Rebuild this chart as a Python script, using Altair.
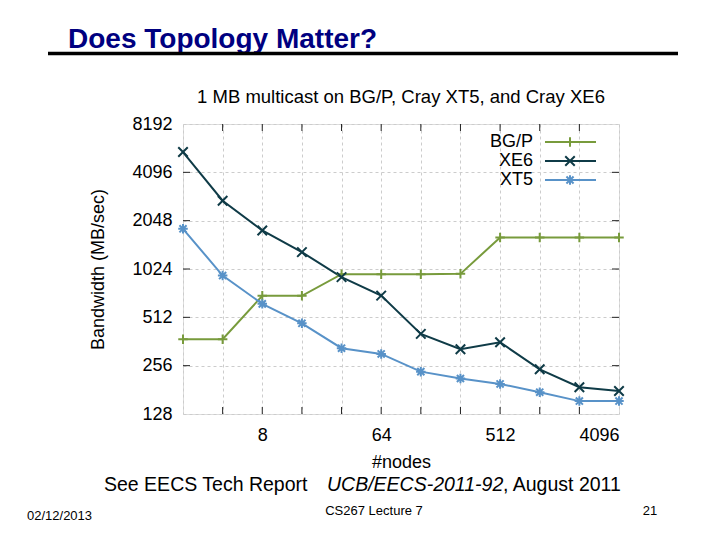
import altair as alt
import pandas as pd

# ---- data ----
nodes = [2, 4, 8, 16, 32, 64, 128, 256, 512, 1024, 2048, 4096]
series = ["BG/P", "XE6", "XT5"]
bgp = [374, 374, 697, 697, 951, 951, 951, 955, 1609, 1609, 1609, 1609]
xe6 = [5480, 2725, 1779, 1304, 911, 699, 404, 324, 358, 243, 188, 178]
xt5 = [1823, 932, 621, 470, 329, 303, 235, 213, 197, 175, 154, 154]
x_ticks = [2, 4, 8, 16, 32, 64, 128, 256, 512, 1024, 2048, 4096]
x_tick_labels = [8, 64, 512, 4096]
y_ticks = [128, 256, 512, 1024, 2048, 4096, 8192]

colors = ["#789b3c", "#0f3b47", "#5892c8"]
shapes = [
    "M-1,0L1,0M0,-1L0,1",
    "M-1,-1L1,1M-1,1L1,-1",
    "M-1,0L1,0M0,-1L0,1M-0.75,-0.75L0.75,0.75M-0.75,0.75L0.75,-0.75",
]

rows = []
for name, vals in zip(series, [bgp, xe6, xt5]):
    for n, v in zip(nodes, vals):
        rows.append({"nodes": n, "bw": v, "series": name})
df = pd.DataFrame(rows)

W, H = 436, 290
FONT = "Liberation Sans"

xscale = alt.Scale(type="log", base=2, domain=[2, 4096], nice=False)
yscale = alt.Scale(type="log", base=2, domain=[128, 8192], nice=False)
cscale = alt.Scale(domain=series, range=colors)
sscale = alt.Scale(domain=series, range=shapes)

label_expr = "indexof([" + ",".join(str(v) for v in x_tick_labels) + "], datum.value) >= 0 ? format(datum.value, 'd') : ''"

xenc = alt.X("nodes:Q", scale=xscale, title="#nodes",
             axis=alt.Axis(values=x_ticks, labelExpr=label_expr, grid=True,
                           gridDash=[3, 3], gridColor="#cccccc", ticks=False, domain=False,
                           labelFontSize=18, labelPadding=12, titleFontSize=18,
                           titleFontWeight="normal", titlePadding=9, labelColor="black",
                           titleColor="black", labelFont=FONT, titleFont=FONT))
yenc = alt.Y("bw:Q", scale=yscale, title="Bandwidth (MB/sec)",
             axis=alt.Axis(values=y_ticks, format="d", grid=True, gridDash=[3, 3],
                           gridColor="#cccccc", ticks=False, domain=False,
                           labelFontSize=18, labelPadding=11, titleFontSize=18,
                           titleFontWeight="normal", titlePadding=24, labelColor="black",
                           titleColor="black", labelFont=FONT, titleFont=FONT))

lines = alt.Chart(df).mark_line(strokeWidth=2).encode(
    x=xenc, y=yenc,
    color=alt.Color("series:N", scale=cscale, legend=None),
    detail="series:N",
)
points = alt.Chart(df).mark_point(filled=False, strokeWidth=2, size=90, opacity=1).encode(
    x="nodes:Q", y="bw:Q",
    color=alt.Color("series:N", scale=cscale, legend=None),
    shape=alt.Shape("series:N", scale=sscale, legend=None),
)

# inward tick marks on all four sides
xt = pd.DataFrame({"nodes": x_ticks[1:-1]})
yt = pd.DataFrame({"bw": y_ticks[1:-1]})
tick_col = "#222222"
xt_bot = alt.Chart(xt).mark_rule(color=tick_col, strokeWidth=1).encode(
    x="nodes:Q", y=alt.value(H), y2=alt.value(H - 7))
xt_top = alt.Chart(xt).mark_rule(color=tick_col, strokeWidth=1).encode(
    x="nodes:Q", y=alt.value(0), y2=alt.value(7))
yt_left = alt.Chart(yt).mark_rule(color=tick_col, strokeWidth=1).encode(
    y="bw:Q", x=alt.value(0), x2=alt.value(7))
yt_right = alt.Chart(yt).mark_rule(color=tick_col, strokeWidth=1).encode(
    y="bw:Q", x=alt.value(W), x2=alt.value(W - 7))

one = alt.Data(values=[{"a": 1}])


def text(t, x, y, size, align="left", color="black", weight="normal", style="normal", baseline="alphabetic"):
    return alt.Chart(one).mark_text(
        text=t, font=FONT, fontSize=size, align=align, baseline=baseline,
        color=color, fontWeight=weight, fontStyle=style,
    ).encode(x=alt.value(x), y=alt.value(y))


# legend (label left of sample, gnuplot style)
legend_layers = []
for i, name in enumerate(series):
    yy = 18 + 19 * i
    legend_layers.append(text(name, 350, yy, 18, align="right", baseline="middle"))
    legend_layers.append(
        alt.Chart(one).mark_rule(color=colors[i], strokeWidth=2).encode(
            x=alt.value(362), x2=alt.value(413), y=alt.value(yy)))
    legend_layers.append(
        alt.Chart(one).mark_point(filled=False, strokeWidth=2, size=90, color=colors[i],
                                  shape=shapes[i], opacity=1).encode(
            x=alt.value(387), y=alt.value(yy)))

OX, OY = 183, 124
deco = [
    text("Does Topology Matter?", 68 - OX, 48 - OY, 28, color="#000080", weight="bold"),
    alt.Chart(one).mark_rule(color="black", strokeWidth=3.5).encode(
        x=alt.value(48 - OX), x2=alt.value(678 - OX), y=alt.value(53.5 - OY)),
    text("1 MB multicast on BG/P, Cray XT5, and Cray XE6", W / 2, 103 - OY, 18.5, align="center"),
    text("See EECS Tech Report", 104 - OX, 491 - OY, 19.5),
    text("UCB/EECS-2011-92", 327 - OX, 491 - OY, 19.5, style="italic"),
    text(", August 2011", 503 - OX, 491 - OY, 19.5),
    text("02/12/2013", 27 - OX, 520 - OY, 13),
    text("CS267 Lecture 7", 374 - OX, 515 - OY, 13, align="center"),
    text("21", 650 - OX, 515 - OY, 13, align="center"),
]

chart = alt.layer(
    lines, points, xt_bot, xt_top, yt_left, yt_right, *legend_layers, *deco
).properties(
    width=W, height=H,
    autosize=alt.AutoSizeParams(type="none"),
    padding={"left": OX, "top": OY, "right": 720 - OX - W, "bottom": 540 - OY - H},
    background="white",
).configure_view(
    stroke="#222222", strokeWidth=1.5
).configure(font=FONT)

chart.save("out.html", embed_options={"renderer": "svg", "actions": False})
